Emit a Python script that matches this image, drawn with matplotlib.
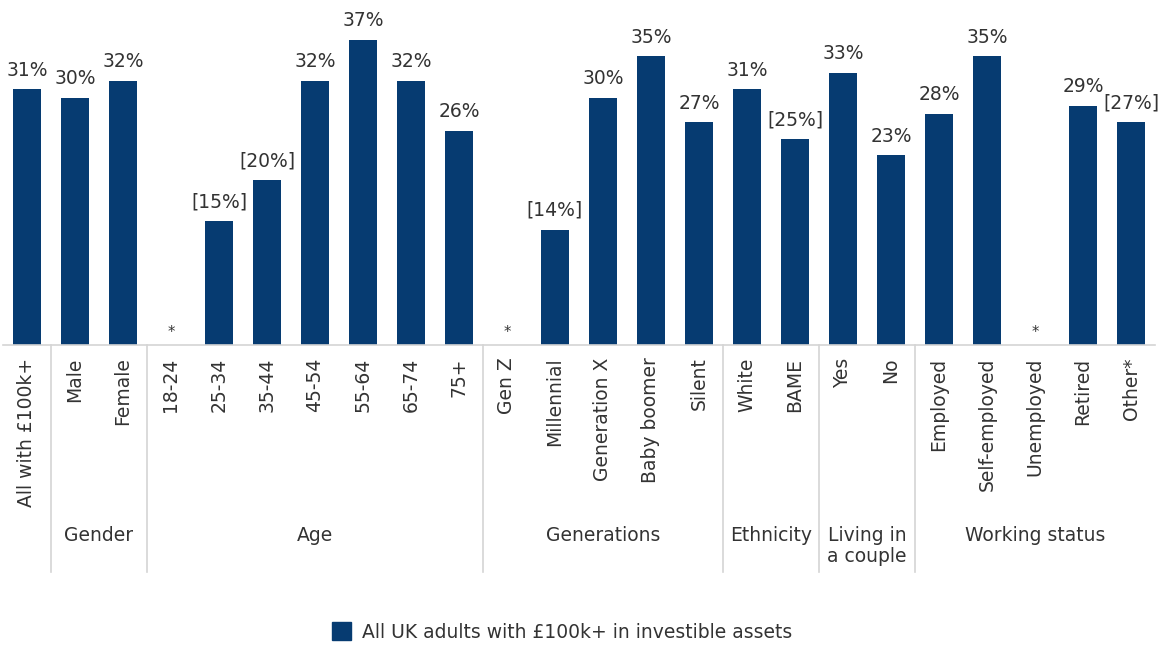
import matplotlib
matplotlib.use("Agg")
import matplotlib.pyplot as plt
import matplotlib.patches as mpatches

# ---------------------------------------------------------------------------
# Data
# ---------------------------------------------------------------------------
categories = ["All with £100k+", "Male", "Female",
              "18-24", "25-34", "35-44", "45-54", "55-64", "65-74", "75+",
              "Gen Z", "Millennial", "Generation X", "Baby boomer", "Silent",
              "White", "BAME", "Yes", "No",
              "Employed", "Self-employed", "Unemployed", "Retired", "Other*"]
values = [31, 30, 32,
          None, 15, 20, 32, 37, 32, 26,
          None, 14, 30, 35, 27,
          31, 25, 33, 23,
          28, 35, None, 29, 27]
# low base sizes are shown in brackets
low_base = [False, False, False,
            False, True, True, False, False, False, False,
            False, True, False, False, False,
            False, True, False, False,
            False, False, False, False, True]
groups = [("", 0, 0), ("Gender", 1, 2), ("Age", 3, 9),
          ("Generations", 10, 14), ("Ethnicity", 15, 16),
          ("Living in\na couple", 17, 18), ("Working status", 19, 23)]
series_label = "All UK adults with £100k+ in investible assets"

BAR_COL = "#063b71"
TXT_COL = "#333333"
LINE_COL = "#d4d4d4"
FS = 13.5

W, H = 1161, 652
fig = plt.figure(figsize=(W / 100, H / 100), dpi=100)
fig.patch.set_facecolor("white")

base_y, top_y = 345, 15
left_x, right_x = 3, 1155
ax = fig.add_axes([left_x / W, (H - base_y) / H,
                   (right_x - left_x) / W, (base_y - top_y) / H])

x = list(range(len(categories)))
heights = [v if v is not None else 0 for v in values]
ax.bar(x, heights, width=0.58, color=BAR_COL, linewidth=0)

for i, (v, low) in enumerate(zip(values, low_base)):
    if v is None:
        ax.text(i, 0.6, "*", ha="center", va="bottom", fontsize=FS - 3,
                color=TXT_COL)
        continue
    lab = f"[{v}%]" if low else f"{v}%"
    ax.annotate(lab, (i, v), xytext=(0, 7), textcoords="offset points",
                ha="center", va="bottom", fontsize=FS, color=TXT_COL)

ax.set_xlim(-0.5, len(categories) - 0.5)
ax.set_ylim(0, 40)
ax.set_yticks([])
ax.set_xticks(x)
ax.set_xticklabels(categories, rotation=90, va="top", ha="center",
                   fontsize=FS, color=TXT_COL)
ax.tick_params(axis="x", length=0, pad=9)
for s in ["top", "right", "left"]:
    ax.spines[s].set_visible(False)
ax.spines["bottom"].set_color(LINE_COL)
ax.spines["bottom"].set_linewidth(1.2)

# group labels and separators below the axis
span = base_y - top_y
trans = ax.get_xaxis_transform()
sep_bottom = -(572 - base_y) / span
label_top = -(526 - base_y) / span
for name, a, b in groups:
    if name:
        ax.text((a + b) / 2, label_top, name, transform=trans, ha="center",
                va="top", fontsize=FS, color=TXT_COL, linespacing=1.1)
    if b < len(categories) - 1:
        ax.plot([b + 0.5, b + 0.5], [0, sep_bottom], transform=trans,
                color=LINE_COL, linewidth=1.2, clip_on=False)

handle = mpatches.Patch(color=BAR_COL, label=series_label)
fig.legend(handles=[handle], loc="center", bbox_to_anchor=(0.484, 1 - 632 / H),
           frameon=False, fontsize=FS, handlelength=1.0, handleheight=1.1,
           handletextpad=0.6, labelcolor=TXT_COL)

fig.savefig("out.png", dpi=100)
